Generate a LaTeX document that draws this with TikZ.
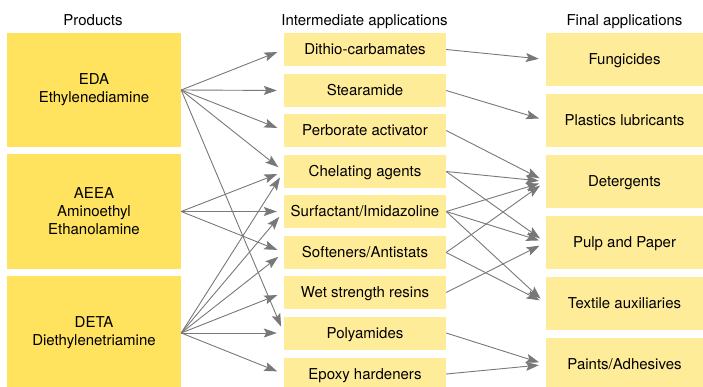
\documentclass[tikz,border=0pt]{standalone}
\usepackage{fontspec}
\setmainfont{TeX Gyre Heros}
\usetikzlibrary{arrows.meta}
\definecolor{prodyellow}{RGB}{255,226,94}
\definecolor{appyellow}{RGB}{255,236,153}
\definecolor{arrowgray}{RGB}{120,120,120}
\begin{document}
\begin{tikzpicture}[x=1pt, y=-1pt,
        font=\fontsize{15}{18}\selectfont,
        prod/.style = {fill=prodyellow, minimum width=174pt, minimum height=114pt, inner sep=0pt, align=center},
        mid/.style = {fill=appyellow, minimum width=162pt, minimum height=33pt, inner sep=0pt, text height=10.8pt, text depth=0pt},
        fin/.style = {fill=appyellow, minimum width=157pt, minimum height=53pt, inner sep=0pt, text height=10.8pt, text depth=0pt},
        head/.style = {anchor=base},
        conn/.style = {->, draw=arrowgray, line width=0.9pt, shorten >=7pt},
        >={Stealth[length=13pt, width=9pt, inset=2.5pt]}]
        \clip (0,0) rectangle (703,387);
        \node[head] (19) at (93,25.5) {Products};
        \node[head] (20) at (364.5,25.5) {Intermediate applications};
        \node[head] (21) at (624.5,25.5) {Final applications};
        \node[prod] (1) at (94,90) {EDA\\Ethylenediamine};
        \node[prod] (2) at (94,211.5) {AEEA\\Aminoethyl\\Ethanolamine};
        \node[prod] (3) at (94,333) {DETA\\Diethylenetriamine};
        \node[mid] (4) at (365,49.5) {Dithio-carbamates};
        \node[mid] (5) at (365,90.5) {Stearamide};
        \node[mid] (6) at (365,130.5) {Perborate activator};
        \node[mid] (7) at (365,171.5) {Chelating agents};
        \node[mid] (8) at (365,211.5) {Surfactant/Imidazoline};
        \node[mid] (9) at (365,252.5) {Softeners/Antistats};
        \node[mid] (10) at (365,292.5) {Wet strength resins};
        \node[mid] (11) at (365,333) {Polyamides};
        \node[mid] (12) at (365,374) {Epoxy hardeners};
        \node[fin] (13) at (624.5,59.5) {Fungicides};
        \node[fin] (14) at (624.5,120.5) {Plastics lubricants};
        \node[fin] (15) at (624.5,181.5) {Detergents};
        \node[fin] (16) at (624.5,242.5) {Pulp and Paper};
        \node[fin] (17) at (624.5,303.5) {Textile auxiliaries};
        \node[fin] (18) at (624.5,364.5) {Paints/Adhesives};
        \draw[conn] (1.east) -- (4.west);
        \draw[conn] (1.east) -- (5.west);
        \draw[conn] (1.east) -- (6.west);
        \draw[conn] (1.east) -- (7.west);
        \draw[conn] (1.east) -- (11.west);
        \draw[conn] (2.east) -- (7.west);
        \draw[conn] (2.east) -- (8.west);
        \draw[conn] (2.east) -- (9.west);
        \draw[conn] (3.east) -- (7.west);
        \draw[conn] (3.east) -- (8.west);
        \draw[conn] (3.east) -- (9.west);
        \draw[conn] (3.east) -- (10.west);
        \draw[conn] (3.east) -- (11.west);
        \draw[conn] (3.east) -- (12.west);
        \draw[conn] (4.east) -- (13.west);
        \draw[conn] (5.east) -- (14.west);
        \draw[conn] (6.east) -- (15.west);
        \draw[conn] (7.east) -- (15.west);
        \draw[conn] (7.east) -- (16.west);
        \draw[conn] (8.east) -- (15.west);
        \draw[conn] (8.east) -- (16.west);
        \draw[conn] (8.east) -- (17.west);
        \draw[conn] (9.east) -- (15.west);
        \draw[conn] (9.east) -- (17.west);
        \draw[conn] (10.east) -- (16.west);
        \draw[conn] (11.east) -- (18.west);
        \draw[conn] (12.east) -- (18.west);
    \end{tikzpicture}
\end{document}
